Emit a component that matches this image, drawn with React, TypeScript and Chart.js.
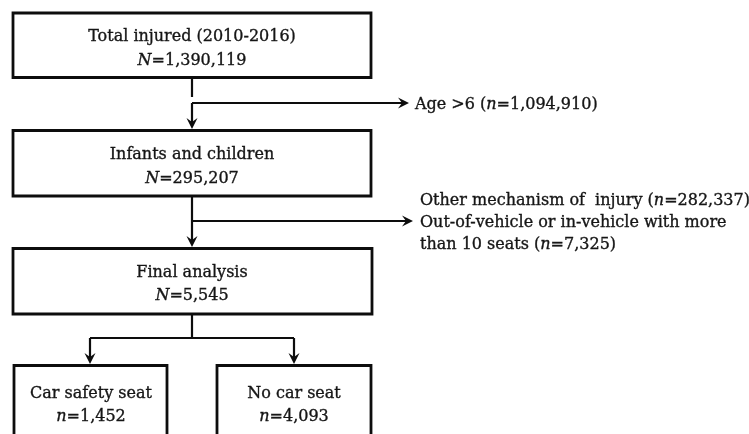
import React, { useEffect, useRef } from "react";
import { Chart, registerables } from "chart.js";

Chart.register(...registerables);

// ---------- data ----------
const stageTitles = [
  "Total injured (2010-2016)",
  "Infants and children",
  "Final analysis",
  "Car safety seat",
  "No car seat",
];
const stageSymbols = ["N", "N", "N", "n", "n"];
const stageCounts = ["1,390,119", "295,207", "5,545", "1,452", "4,093"];

const exclusionLabels = [
  "Age >6",
  "Other mechanism of  injury",
  "Out-of-vehicle or in-vehicle with more than 10 seats",
];
const exclusionCounts = ["1,094,910", "282,337", "7,325"];

// ---------- layout (in scale units = canvas px) ----------
const W = 749;
const H = 434;
const boxLeft = [13, 13, 13, 14, 217];
const boxRight = [371, 371, 372, 167, 371];
const boxTop = [13, 130.5, 248.5, 365.5, 365.5];
const boxBottom = [77.5, 196, 314, 460, 460];
const line1Y = [41, 159, 277, 398, 398];
const line2Y = [65, 183, 300, 421, 421];
const textX = [192, 192, 192, 91, 294];

const spineX = 192;
type Conn = { pts: [number, number][]; arrow: boolean };
const connectors: Conn[] = [
  { pts: [[spineX, 77.5], [spineX, 97]], arrow: false },
  { pts: [[spineX, 103], [spineX, 129]], arrow: true },
  { pts: [[spineX, 103], [409, 103]], arrow: true },
  { pts: [[spineX, 196], [spineX, 247]], arrow: true },
  { pts: [[spineX, 221], [413, 221]], arrow: true },
  { pts: [[spineX, 314], [spineX, 338]], arrow: false },
  { pts: [[90, 338], [294, 338]], arrow: false },
  { pts: [[90, 338], [90, 364]], arrow: true },
  { pts: [[294, 338], [294, 364]], arrow: true },
];
const exclTextX = [415, 420, 420];
const exclLineY = [109, 205, 227];
const exclLineGap = 22;

const FONT = '"DejaVu Serif", serif';
const FONT_SIZE = 16;
const TEXT_COLOR = "#161616";
const LINE_COLOR = "#0d0d0d";

type Seg = { t: string; it?: boolean };

function segFont(s: Seg) {
  return `${s.it ? "italic " : ""}${FONT_SIZE}px ${FONT}`;
}
function measureSegs(ctx: CanvasRenderingContext2D, segs: Seg[]) {
  let w = 0;
  for (const s of segs) {
    ctx.font = segFont(s);
    w += ctx.measureText(s.t).width;
  }
  return w;
}
function drawSegs(
  ctx: CanvasRenderingContext2D,
  segs: Seg[],
  x: number,
  y: number,
  align: "left" | "center"
) {
  const w = measureSegs(ctx, segs);
  let cx = align === "center" ? x - w / 2 : x;
  ctx.textAlign = "left";
  ctx.textBaseline = "alphabetic";
  ctx.fillStyle = TEXT_COLOR;
  ctx.strokeStyle = TEXT_COLOR;
  ctx.lineWidth = 0.35;
  for (const s of segs) {
    ctx.font = segFont(s);
    ctx.fillText(s.t, cx, y);
    ctx.strokeText(s.t, cx, y);
    cx += ctx.measureText(s.t).width;
  }
}

const flowPlugin = {
  id: "flowText",
  afterDatasetsDraw(chart: any) {
    const ctx: CanvasRenderingContext2D = chart.ctx;
    const xs = chart.scales.x;
    const ys = chart.scales.y;
    ctx.save();
    // arrowheads
    ctx.fillStyle = LINE_COLOR;
    for (const c of connectors) {
      if (!c.arrow) continue;
      const [ax, ay] = c.pts[c.pts.length - 2];
      const [bx, by] = c.pts[c.pts.length - 1];
      const px = xs.getPixelForValue(bx);
      const py = ys.getPixelForValue(by);
      const qx = xs.getPixelForValue(ax);
      const qy = ys.getPixelForValue(ay);
      const ang = Math.atan2(py - qy, px - qx);
      const L = 11;
      const hw = 5.5;
      const notch = 7;
      ctx.save();
      ctx.translate(px, py);
      ctx.rotate(ang);
      ctx.beginPath();
      ctx.moveTo(0, 0);
      ctx.lineTo(-L, -hw);
      ctx.lineTo(-notch, 0);
      ctx.lineTo(-L, hw);
      ctx.closePath();
      ctx.fill();
      ctx.restore();
    }
    // box text
    for (let i = 0; i < stageTitles.length; i++) {
      const x = xs.getPixelForValue(textX[i]);
      drawSegs(ctx, [{ t: stageTitles[i] }], x, ys.getPixelForValue(line1Y[i]), "center");
      drawSegs(
        ctx,
        [{ t: stageSymbols[i], it: true }, { t: "=" + stageCounts[i] }],
        x,
        ys.getPixelForValue(line2Y[i]),
        "center"
      );
    }
    // exclusion text
    const maxW = 330;
    for (let i = 0; i < exclusionLabels.length; i++) {
      const words = exclusionLabels[i].split(" ");
      const tail: Seg[] = [{ t: " (" }, { t: "n", it: true }, { t: "=" + exclusionCounts[i] + ")" }];
      const lines: Seg[][] = [];
      let cur = "";
      for (let k = 0; k < words.length; k++) {
        const test = cur === "" ? words[k] : cur + " " + words[k];
        const isLast = k === words.length - 1;
        const segs: Seg[] = isLast ? [{ t: test }, ...tail] : [{ t: test }];
        if (measureSegs(ctx, segs) > maxW && cur !== "") {
          lines.push([{ t: cur }]);
          cur = words[k];
        } else {
          cur = test;
        }
      }
      lines.push([{ t: cur }, ...tail]);
      lines.forEach((segs, li) => {
        drawSegs(
          ctx,
          segs,
          xs.getPixelForValue(exclTextX[i]),
          ys.getPixelForValue(exclLineY[i] + li * exclLineGap),
          "left"
        );
      });
    }
    ctx.restore();
  },
};

export default function App() {
  const ref = useRef<HTMLCanvasElement | null>(null);
  useEffect(() => {
    if (!ref.current) return;
    const datasets: any[] = [];
    for (let i = 0; i < boxLeft.length; i++) {
      const l = boxLeft[i], r = boxRight[i], t = boxTop[i], b = boxBottom[i];
      datasets.push({
        data: [
          { x: l, y: t },
          { x: r, y: t },
          { x: r, y: b },
          { x: l, y: b },
          { x: l, y: t },
        ],
        showLine: true,
        borderColor: LINE_COLOR,
        borderWidth: 2.8,
        borderJoinStyle: "miter",
        borderCapStyle: "square",
        pointRadius: 0,
        fill: false,
        tension: 0,
      });
    }
    for (const c of connectors) {
      const pts = c.pts.map(([x, y], k) => {
        if (c.arrow && k === c.pts.length - 1) {
          const [px, py] = c.pts[k - 1];
          const dx = x - px, dy = y - py;
          const len = Math.hypot(dx, dy) || 1;
          return { x: x - (dx / len) * 6, y: y - (dy / len) * 6 };
        }
        return { x, y };
      });
      datasets.push({
        data: pts,
        showLine: true,
        borderColor: LINE_COLOR,
        borderWidth: 2.2,
        borderCapStyle: "butt",
        pointRadius: 0,
        fill: false,
        tension: 0,
      });
    }
    const chart = new Chart(ref.current, {
      type: "scatter",
      data: { datasets },
      options: {
        animation: false,
        responsive: false,
        devicePixelRatio: 1,
        layout: { padding: 0 },
        plugins: { legend: { display: false }, tooltip: { enabled: false } },
        events: [],
        scales: {
          x: { type: "linear", min: 0, max: W, display: false },
          y: { type: "linear", min: 0, max: H, reverse: true, display: false },
        },
      },
      plugins: [flowPlugin],
    });
    return () => chart.destroy();
  }, []);
  return (
    <div
      style={{
        position: "fixed",
        left: 0,
        top: 0,
        width: W,
        height: H,
        background: "#ffffff",
      }}
    >
      <canvas ref={ref} width={W} height={H} style={{ width: W, height: H, display: "block" }} />
    </div>
  );
}
